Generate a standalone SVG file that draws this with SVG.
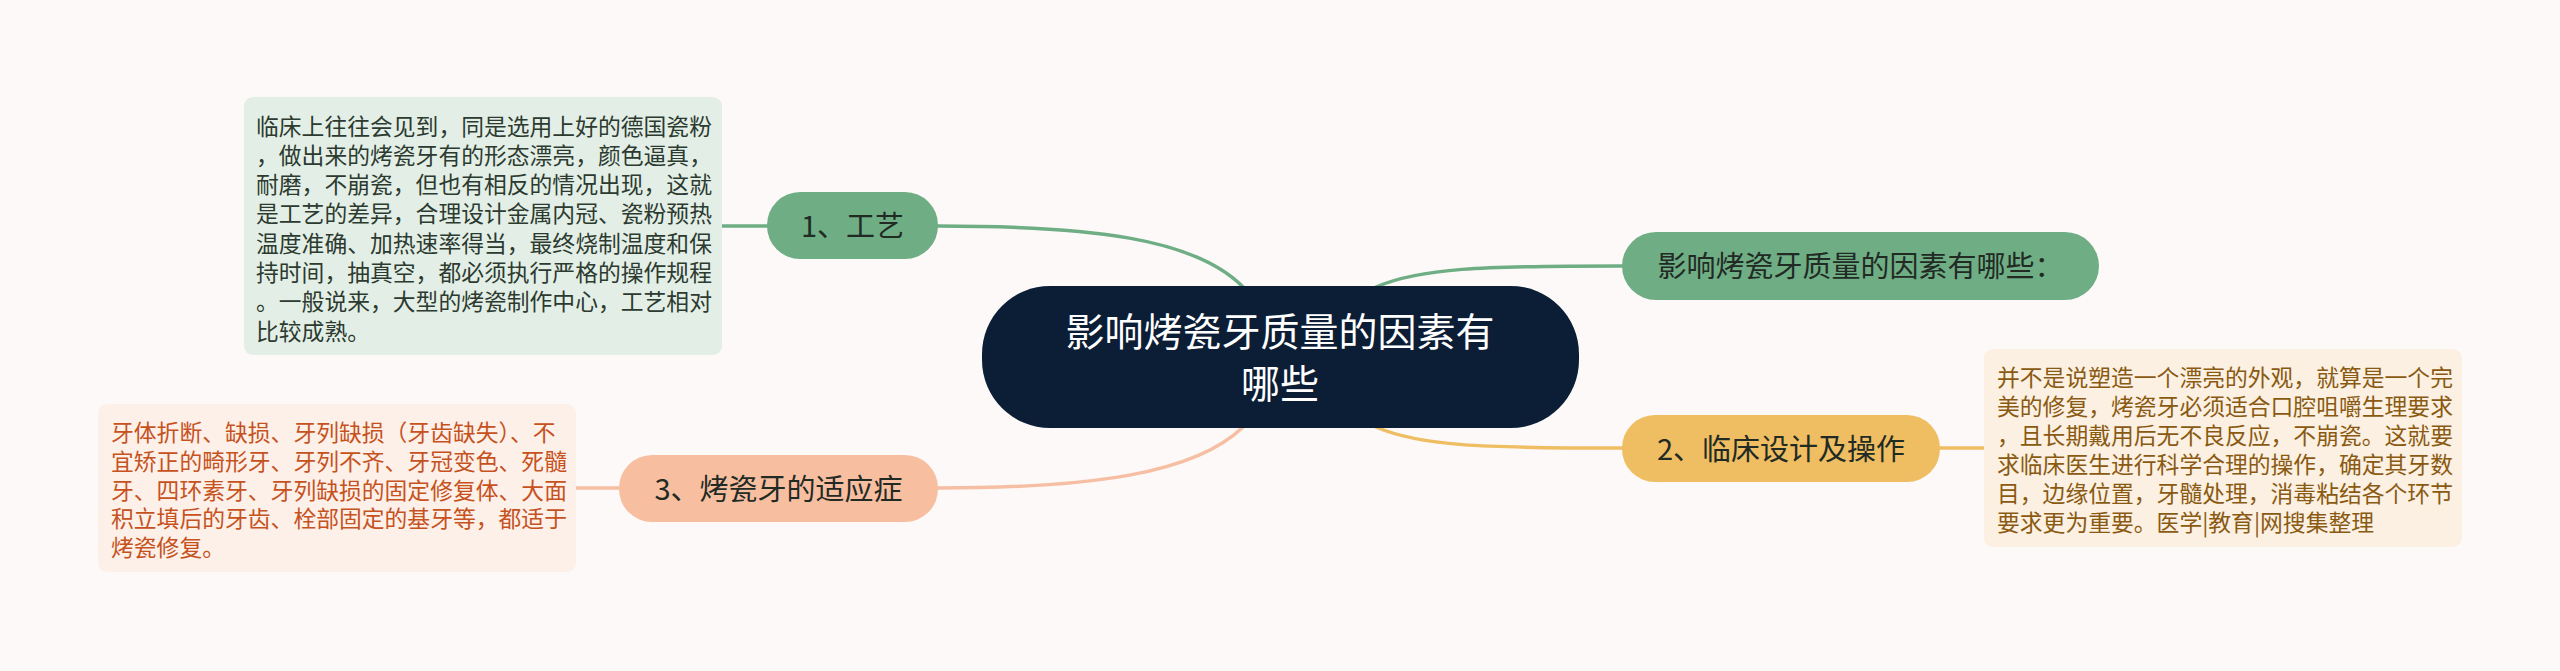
<svg xmlns="http://www.w3.org/2000/svg" width="2560" height="671" viewBox="0 0 2560 671">
<style>
text{font-family:"Noto Sans CJK SC","Noto Sans",sans-serif}
.edge{fill:none;stroke-width:3.5;stroke-linecap:round}
.g{stroke:#6fae84}.y{stroke:#efbd62}.p{stroke:#f6bfa3}
.title{font-size:39px;fill:#ffffff;text-anchor:middle}
.lbl{font-size:29px;fill:#222a24;text-anchor:middle}
.det{font-size:22.8px}
</style>
<rect width="2560" height="671" fill="#fdf9f8"/>
<g id="connectors">
<path class="edge g" d="M 1243 287 C 1195 238, 1090 226, 938 226"/>
<path class="edge g" d="M 1376 287 C 1420 268, 1480 266, 1622 266"/>
<path class="edge y" d="M 1376 427 C 1420 446, 1480 448, 1622 448"/>
<path class="edge p" d="M 1243 427 C 1195 474, 1090 488, 938 488"/>
<path class="edge g" d="M 767 226 L 722 226"/>
<path class="edge y" d="M 1940 448 L 1984 448"/>
<path class="edge p" d="M 619 488 L 576 488"/>
</g>
<g id="root">
<rect x="982" y="286" width="597" height="142" rx="68" fill="#0c1e36"/>
<text class="title" x="1280" y="345.5">影响烤瓷牙质量的因素有</text>
<text class="title" x="1280" y="397.5">哪些</text>
</g>
<g id="n1">
<rect x="767" y="192" width="171" height="67" rx="33" fill="#6fae84"/>
<text class="lbl" x="852.5" y="236.5">1、工艺</text>
</g>
<g id="n1d">
<rect x="244" y="97" width="478" height="258" rx="9" fill="#e3efe6"/>
<g class="det" fill="#2c3a30">
<text x="256" y="134.5">临床上往往会见到，同是选用上好的德国瓷粉</text>
<text x="256" y="163.8">，做出来的烤瓷牙有的形态漂亮，颜色逼真，</text>
<text x="256" y="193.1">耐磨，不崩瓷，但也有相反的情况出现，这就</text>
<text x="256" y="222.4">是工艺的差异，合理设计金属内冠、瓷粉预热</text>
<text x="256" y="251.7">温度准确、加热速率得当，最终烧制温度和保</text>
<text x="256" y="281">持时间，抽真空，都必须执行严格的操作规程</text>
<text x="256" y="310.3">。一般说来，大型的烤瓷制作中心，工艺相对</text>
<text x="256" y="339.6">比较成熟。</text>
</g>
</g>
<g id="n0">
<rect x="1622" y="232" width="477" height="68" rx="34" fill="#6fae84"/>
<text class="lbl" x="1860.5" y="277">影响烤瓷牙质量的因素有哪些：</text>
</g>
<g id="n2">
<rect x="1622" y="415" width="318" height="67" rx="33" fill="#efbd62"/>
<text class="lbl" x="1781" y="459.5">2、临床设计及操作</text>
</g>
<g id="n2d">
<rect x="1984" y="349" width="478" height="198" rx="9" fill="#fbf0e1"/>
<g class="det" fill="#8a5a12">
<text x="1997" y="386">并不是说塑造一个漂亮的外观，就算是一个完</text>
<text x="1997" y="414.9">美的修复，烤瓷牙必须适合口腔咀嚼生理要求</text>
<text x="1997" y="443.8">，且长期戴用后无不良反应，不崩瓷。这就要</text>
<text x="1997" y="472.7">求临床医生进行科学合理的操作，确定其牙数</text>
<text x="1997" y="501.6">目，边缘位置，牙髓处理，消毒粘结各个环节</text>
<text x="1997" y="530.5">要求更为重要。医学|教育|网搜集整理</text>
</g>
</g>
<g id="n3">
<rect x="619" y="455" width="319" height="67" rx="33" fill="#f8bea0"/>
<text class="lbl" x="778.5" y="499.5">3、烤瓷牙的适应症</text>
</g>
<g id="n3d">
<rect x="98" y="404" width="478" height="168" rx="9" fill="#fdf0e8"/>
<g class="det" fill="#c6521e">
<text x="111" y="441">牙体折断、缺损、牙列缺损（牙齿缺失）、不</text>
<text x="111" y="469.8">宜矫正的畸形牙、牙列不齐、牙冠变色、死髓</text>
<text x="111" y="498.6">牙、四环素牙、牙列缺损的固定修复体、大面</text>
<text x="111" y="527.4">积立填后的牙齿、栓部固定的基牙等，都适于</text>
<text x="111" y="556.2">烤瓷修复。</text>
</g>
</g>
</svg>
